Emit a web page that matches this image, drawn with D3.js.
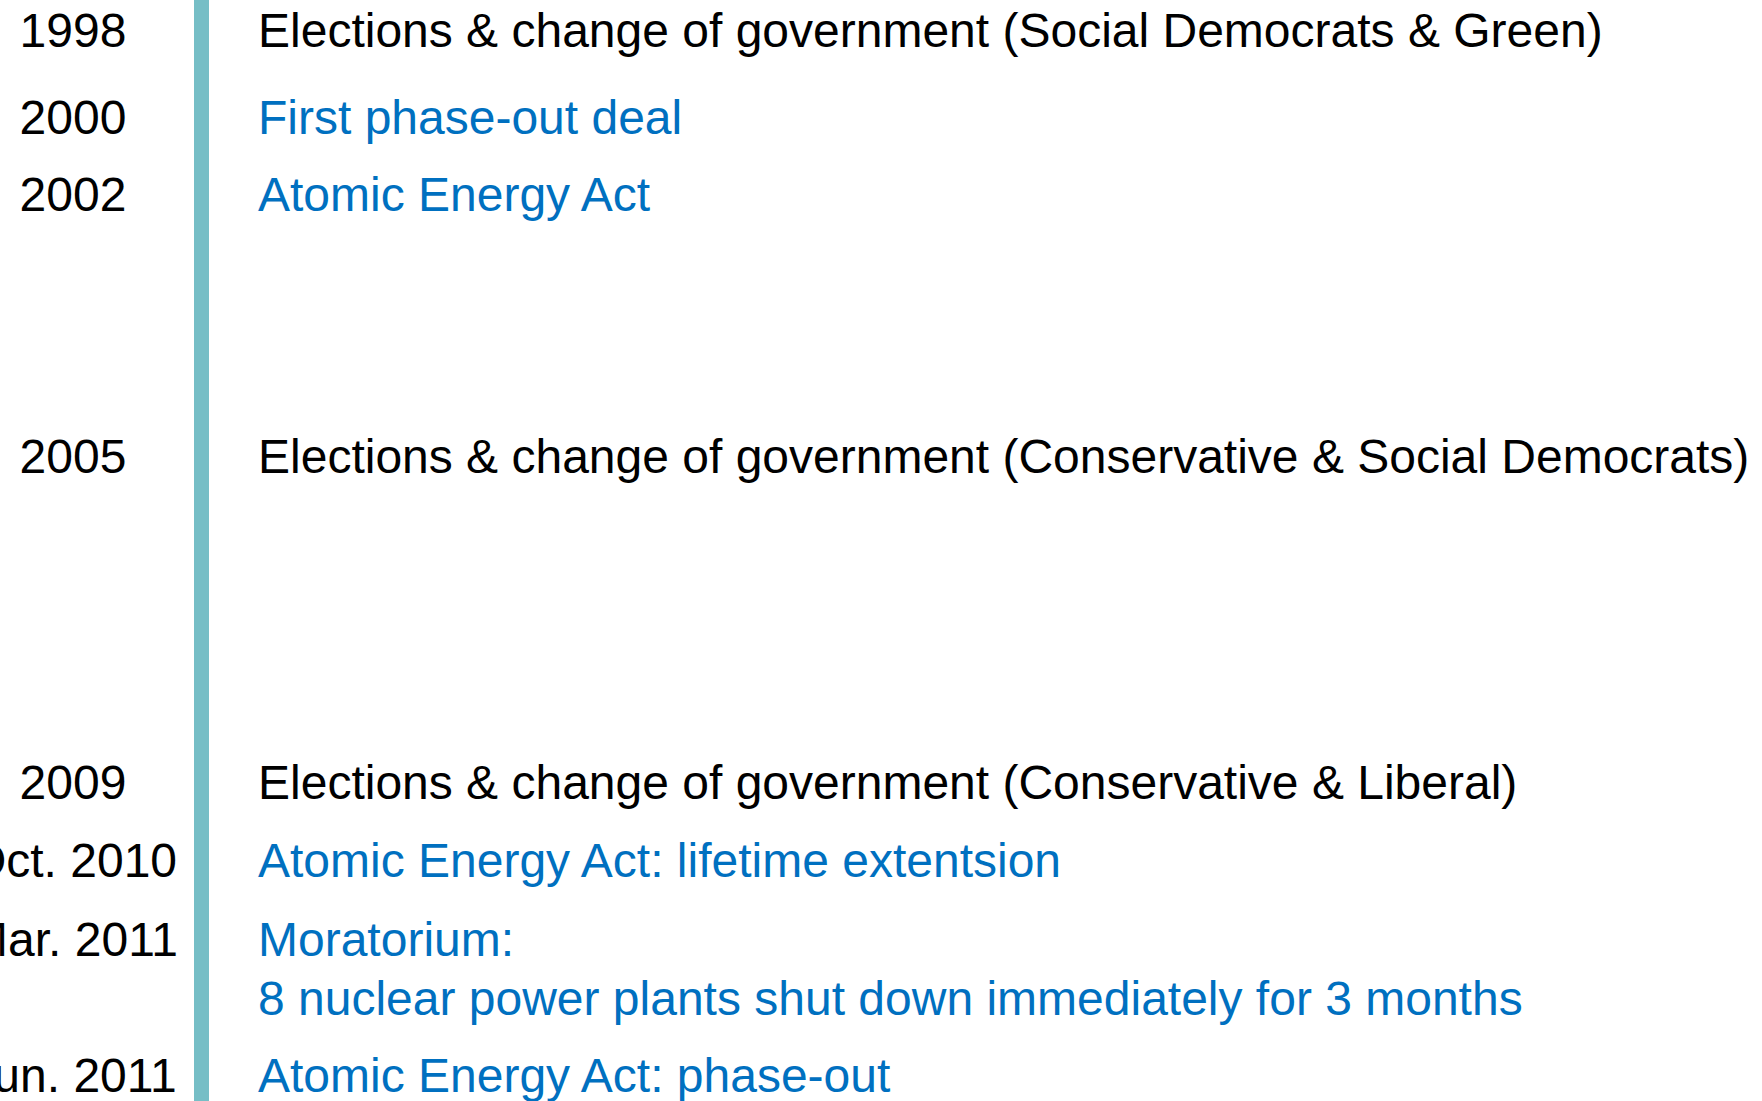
<!DOCTYPE html>
<html lang="en">
<head>
    <meta charset="UTF-8">
    <title>Nuclear phase-out timeline</title>
    <script src="https://d3js.org/d3.v7.min.js"></script>
    <style>
        body { margin: 0; background: #fff; }
        text { font-family: "Liberation Sans", Arial, sans-serif; font-size: 48px; }
        .date { fill: #000; text-anchor: middle; }
        .election { fill: #000; }
        .law { fill: #0070c0; }
    </style>
</head>
<body>
    <svg width="1762" height="1101"></svg>
    <script>

        // timeline entries
        const dates = ["1998", "2000", "2002", "2005", "2009", "Oct. 2010", "Mar. 2011", "Jun. 2011"];
        const rows = [0, 1.09, 2.05, 5.33, 9.4, 10.38, 11.36, 13.06];   // vertical slot of each entry
        const kinds = ["election", "law", "law", "election", "election", "law", "law", "law"];
        const events = [
            ["Elections & change of government (Social Democrats & Green)"],
            ["First phase-out deal"],
            ["Atomic Energy Act"],
            ["Elections & change of government (Conservative & Social Democrats)"],
            ["Elections & change of government (Conservative & Liberal)"],
            ["Atomic Energy Act: lifetime extentsion"],
            ["Moratorium:", "8 nuclear power plants shut down immediately for 3 months"],
            ["Atomic Energy Act: phase-out"]
        ];

        const data = dates.map((d, i) => ({ date: d, row: rows[i], kind: kinds[i], lines: events[i] }));

        const svg = d3.select("svg");
        const height = +svg.attr("height");

        const y = d3.scaleLinear().domain([0, 1]).range([47, 127]);

        // vertical bar
        svg.append("rect")
            .attr("x", 194)
            .attr("y", 0)
            .attr("width", 15)
            .attr("height", height)
            .attr("fill", "#76bec6");

        const entry = svg.selectAll(".entry")
            .data(data)
            .enter().append("g")
            .attr("class", "entry")
            .attr("transform", d => `translate(0,${y(d.row)})`);

        entry.append("text")
            .attr("class", "date")
            .attr("x", 73)
            .text(d => d.date);

        entry.append("text")
            .attr("class", d => d.kind)
            .attr("x", 258)
            .selectAll("tspan")
            .data(d => d.lines)
            .enter().append("tspan")
            .attr("x", 258)
            .attr("dy", (l, i) => i === 0 ? 0 : 59)
            .text(l => l);
    </script>
</body>
</html>
